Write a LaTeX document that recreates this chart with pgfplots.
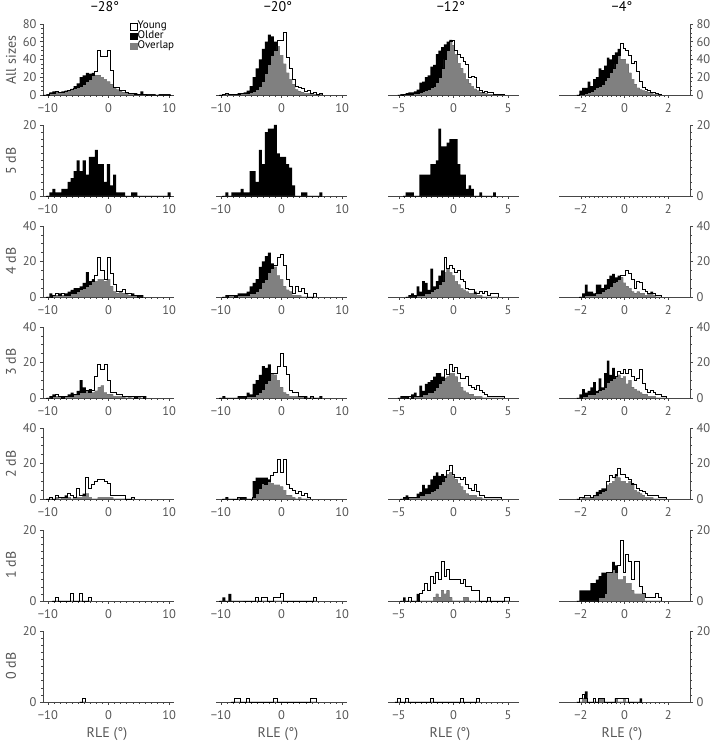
\documentclass[border=0pt]{standalone}
\usepackage{fontspec}
\setmainfont{PT Sans}
\usepackage{pgfplots}
\usepackage{pgfplotstable}
\pgfplotsset{compat=1.18}

\definecolor{axcol}{RGB}{70,70,70}
\definecolor{lblcol}{RGB}{85,85,85}
\definecolor{ovgray}{RGB}{128,128,128}

\newcommand\tk{\fontsize{12.5}{13}\selectfont}
\newcommand\lb{\fontsize{14}{14}\selectfont}

\pgfplotsset{
  panel/.style={scale only axis, width=131pt, height=71pt, anchor=south west, ymin=0,
    axis x line*=bottom, tick align=outside, major tick length=3pt, minor tick length=1.6pt,
    axis line style={axcol, line width=0.6pt}, every tick/.style={axcol, line width=0.5pt},
    tick label style={font=\tk, text=lblcol}, xticklabel style={yshift=-2.5pt},
    minor x tick num=9, clip=false},
  colA/.style={panel, xmin=-10.8, xmax=10.8, xtick={-10,0,10}, xticklabels={−10,0,10}, axis y line*=left},
  colB/.style={panel, xmin=-10.8, xmax=10.8, xtick={-10,0,10}, xticklabels={−10,0,10}, hide y axis},
  colC/.style={panel, xmin=-6, xmax=6, xtick={-5,0,5}, xticklabels={−5,0,5}, hide y axis},
  colD/.style={panel, xmin=-3, xmax=3, xtick={-2,0,2}, xticklabels={−2,0,2}, axis y line*=right},
  r80/.style={ymax=80, ytick={0,20,40,60,80}, yticklabels={0,20,40,60,80}, minor y tick num=3},
  r40/.style={ymax=40, ytick={0,20,40}, yticklabels={0,20,40}, minor y tick num=3},
  r20/.style={ymax=20, ytick={0,20}, yticklabels={0,20}, minor y tick num=9},
}

% #1 table (x = bin centre, Y = young, O = older), #2 half bin width
\newcommand{\hist}[2]{%
  \addplot[const plot, fill=black, draw=none, forget plot] table[x expr=\thisrow{x}-#2, y=O] {#1} \closedcycle;
  \addplot[const plot, fill=ovgray, draw=none, forget plot] table[x expr=\thisrow{x}-#2, y expr={min(\thisrow{Y},\thisrow{O})}] {#1} \closedcycle;
  \addplot[const plot, draw=black, line width=0.9pt, forget plot] table[x expr=\thisrow{x}-#2, y=Y] {#1};
}

% ---- All sizes
\pgfplotstableread[row sep=\\]{x Y O\\
-10.5 0 0\\ -10 0 1\\ -9.5 2 3\\ -9 2 4\\ -8.5 4 3\\ -8 3 3\\ -7.5 3 4\\ -7 4 5\\ -6.5 5 5\\ -6 6 7\\
-5.5 7 10\\ -5 9 13\\ -4.5 10 20\\ -4 12 22\\ -3.5 15 25\\ -3 18 24\\ -2.5 22 25\\ -2 26 22\\ -1.5 50 22\\ -1 43 20\\
-0.5 43 18\\ 0 50 15\\ 0.5 28 12\\ 1 8 9\\ 1.5 8 6\\ 2 5 4\\ 2.5 5 3\\ 3 3 3\\ 3.5 2 2\\ 4 2 2\\
4.5 1 2\\ 5 1 1\\ 5.5 1 4\\ 6 1 1\\ 6.5 0 1\\ 7 0 1\\ 7.5 0 1\\ 8 0 0\\ 8.5 0 1\\ 9 0 1\\ 9.5 0 1\\ 10 0 1\\ 10.5 0 0\\
}\dAa
\pgfplotstableread[row sep=\\]{x Y O\\
-10 0 0\\ -9.5 1 1\\ -9 2 2\\ -8.5 1 1\\ -8 1 1\\ -7.5 1 1\\ -7 1 2\\ -6.5 2 2\\ -6 2 3\\ -5.5 2 5\\
-5 3 10\\ -4.5 4 20\\ -4 6 30\\ -3.5 10 40\\ -3 15 52\\ -2.5 24 60\\ -2 34 68\\ -1.5 44 66\\ -1 50 60\\ -0.5 62 55\\
0 62 45\\ 0.5 71 35\\ 1 42 25\\ 1.5 30 18\\ 2 18 12\\ 2.5 10 6\\ 3 8 4\\ 3.5 7 3\\ 4 4 2\\ 4.5 5 2\\
5 2 1\\ 5.5 3 1\\ 6 1 1\\ 6.5 2 1\\ 7 0 0\\
}\dAb
\pgfplotstableread[row sep=\\]{x Y O\\
-5 0 0\\ -4.75 0 1\\ -4.5 1 1\\ -4.25 1 2\\ -4 1 3\\ -3.75 1 3\\ -3.5 2 4\\ -3.25 2 6\\ -3 3 14\\ -2.75 4 15\\
-2.5 5 20\\ -2.25 6 22\\ -2 8 32\\ -1.75 10 34\\ -1.5 14 46\\ -1.25 20 50\\ -1 30 54\\ -0.75 40 57\\ -0.5 50 60\\ -0.25 60 62\\
0 62 56\\ 0.25 50 46\\ 0.5 46 36\\ 0.75 42 30\\ 1 38 24\\ 1.25 34 18\\ 1.5 20 13\\ 1.75 21 10\\ 2 20 7\\ 2.25 8 5\\
2.5 5 3\\ 2.75 3 2\\ 3 4 2\\ 3.25 3 1\\ 3.5 3 1\\ 3.75 1 1\\ 4 1 0\\ 4.25 1 0\\ 4.5 1 0\\ 4.75 0 0\\
}\dAc
\pgfplotstableread[row sep=\\]{x Y O\\
-2.125 0 0\\ -2 1 5\\ -1.875 1 8\\ -1.75 2 8\\ -1.625 3 15\\ -1.5 4 10\\ -1.375 6 18\\ -1.25 8 20\\ -1.125 10 30\\ -1 12 28\\
-0.875 16 33\\ -0.75 20 42\\ -0.625 25 40\\ -0.5 30 45\\ -0.375 35 48\\ -0.25 45 52\\ -0.125 58 40\\ 0 52 40\\ 0.125 50 35\\ 0.25 45 25\\
0.375 36 18\\ 0.5 38 12\\ 0.625 26 8\\ 0.75 15 6\\ 0.875 8 5\\ 1 6 4\\ 1.125 5 3\\ 1.25 3 2\\ 1.375 3 1\\ 1.5 2 1\\
1.625 1 0\\ 1.75 0 0\\
}\dAd
% ---- 5 dB
\pgfplotstableread[row sep=\\]{x Y O\\
-10 0 0\\ -9.5 0 1\\ -9 0 2\\ -8.5 0 1\\ -8 0 1\\ -7.5 0 2\\ -7 0 2\\ -6.5 0 4\\ -6 0 5\\ -5.5 0 7\\
-5 0 10\\ -4.5 0 7\\ -4 0 10\\ -3.5 0 6\\ -3 0 11\\ -2.5 0 11\\ -2 0 13\\ -1.5 0 9\\ -1 0 9\\ -0.5 0 4\\
0 0 9\\ 0.5 0 3\\ 1 0 6\\ 1.5 0 1\\ 2 0 1\\ 2.5 0 1\\ 3 0 0\\ 4 0 1\\ 4.5 0 1\\ 5 0 0\\ 10 0 1\\ 10.5 0 0\\
}\dBa
\pgfplotstableread[row sep=\\]{x Y O\\
-9.5 0 0\\ -9 0 1\\ -8.5 0 0\\ -8 0 1\\ -7.5 0 1\\ -7 0 1\\ -6.5 0 2\\ -6 0 1\\ -5.5 0 1\\ -5 0 7\\
-4.5 0 7\\ -4 0 4\\ -3.5 0 13\\ -3 0 9\\ -2.5 0 18\\ -2 0 19\\ -1.5 0 19\\ -1 0 20\\ -0.5 0 12\\ 0 0 11\\
0.5 0 11\\ 1 0 9\\ 1.5 0 8\\ 2 0 3\\ 2.5 0 0\\ 3.5 0 1\\ 4 0 1\\ 4.5 0 0\\ 6.5 0 1\\ 7 0 0\\
}\dBb
\pgfplotstableread[row sep=\\]{x Y O\\
-4.5 0 0\\ -4.25 0 1\\ -4 0 1\\ -3.75 0 1\\ -3.5 0 0\\ -3 0 6\\ -2.75 0 6\\ -2.5 0 6\\ -2.25 0 6\\ -2 0 9\\
-1.75 0 9\\ -1.5 0 10\\ -1.25 0 19\\ -1 0 14\\ -0.75 0 14\\ -0.5 0 15\\ -0.25 0 16\\ 0 0 16\\ 0.25 0 16\\ 0.5 0 9\\
0.75 0 6\\ 1 0 6\\ 1.25 0 2\\ 1.5 0 3\\ 1.75 0 2\\ 2 0 0\\ 2.5 0 1\\ 2.75 0 0\\ 3.75 0 1\\ 4 0 0\\
}\dBc
% ---- 4 dB
\pgfplotstableread[row sep=\\]{x Y O\\
-10 0 0\\ -9.5 0 2\\ -9 1 1\\ -8.5 2 1\\ -8 1 2\\ -7.5 2 1\\ -7 1 2\\ -6.5 1 3\\ -6 2 4\\ -5.5 2 5\\
-5 3 5\\ -4.5 4 6\\ -4 5 8\\ -3.5 6 14\\ -3 7 9\\ -2.5 9 10\\ -2 12 9\\ -1.5 22 10\\ -1 15 10\\ -0.5 10 9\\
0 22 10\\ 0.5 13 6\\ 1 7 3\\ 1.5 3 2\\ 2 3 3\\ 2.5 4 2\\ 3 2 2\\ 3.5 2 1\\ 4 1 2\\ 4.5 1 1\\
5 0 1\\ 5.5 0 1\\ 6 0 0\\
}\dCa
\pgfplotstableread[row sep=\\]{x Y O\\
-9.5 0 0\\ -9 0 1\\ -8.5 1 1\\ -8 1 1\\ -7.5 0 1\\ -7 1 2\\ -6.5 1 2\\ -6 1 2\\ -5.5 1 3\\ -5 2 6\\
-4.5 2 8\\ -4 3 10\\ -3.5 5 17\\ -3 8 20\\ -2.5 10 23\\ -2 14 25\\ -1.5 16 19\\ -1 18 17\\ -0.5 22 12\\ 0 24 10\\
0.5 18 6\\ 1 10 4\\ 1.5 6 3\\ 2 2 1\\ 2.5 6 1\\ 3 3 1\\ 3.5 5 0\\ 4 2 0\\ 4.5 0 0\\ 5.5 2 0\\ 6 0 0\\
}\dCb
\pgfplotstableread[row sep=\\]{x Y O\\
-4.25 0 0\\ -4 0 1\\ -3.75 0 2\\ -3.5 0 1\\ -3.25 1 6\\ -3 1 3\\ -2.75 1 9\\ -2.5 2 8\\ -2.25 2 4\\ -2 3 16\\
-1.75 4 6\\ -1.5 5 9\\ -1.25 7 12\\ -1 9 15\\ -0.75 22 14\\ -0.5 16 16\\ -0.25 18 14\\ 0 16 12\\ 0.25 14 9\\ 0.5 15 7\\
0.75 10 5\\ 1 9 4\\ 1.25 5 3\\ 1.5 4 2\\ 1.75 4 2\\ 2 2 3\\ 2.25 2 1\\ 2.5 3 1\\ 2.75 2 0\\ 3 3 0\\
3.25 1 0\\ 3.5 2 0\\ 3.75 2 0\\ 4 2 0\\ 4.25 0 0\\
}\dCc
\pgfplotstableread[row sep=\\]{x Y O\\
-2 0 0\\ -1.875 0 2\\ -1.75 1 7\\ -1.625 1 3\\ -1.5 1 3\\ -1.375 1 2\\ -1.25 2 7\\ -1.125 2 7\\ -1 3 5\\ -0.875 4 7\\
-0.75 5 10\\ -0.625 6 12\\ -0.5 8 13\\ -0.375 9 11\\ -0.25 10 12\\ -0.125 12 11\\ 0 12 8\\ 0.125 15 6\\ 0.25 13 5\\ 0.375 10 3\\
0.5 5 2\\ 0.625 9 3\\ 0.75 8 2\\ 0.875 4 2\\ 1 3 1\\ 1.125 2 2\\ 1.25 2 3\\ 1.375 2 1\\ 1.5 1 0\\ 1.625 1 0\\ 1.75 0 0\\
}\dCd
% ---- 3 dB
\pgfplotstableread[row sep=\\]{x Y O\\
-10 0 0\\ -9.5 0 1\\ -9 1 2\\ -8.5 2 1\\ -8 1 1\\ -7.5 0 1\\ -7 1 1\\ -6.5 1 2\\ -6 1 3\\ -5.5 2 2\\
-5 2 4\\ -4.5 3 10\\ -4 3 6\\ -3.5 4 4\\ -3 3 5\\ -2.5 4 3\\ -2 12 4\\ -1.5 19 6\\ -1 16 7\\ -0.5 19 3\\
0 10 2\\ 0.5 3 2\\ 1 3 1\\ 1.5 2 1\\ 2 2 1\\ 2.5 1 1\\ 3 1 0\\ 3.5 1 1\\ 4 1 0\\ 4.5 0 1\\
5 1 1\\ 5.5 1 0\\ 6 0 1\\ 6.5 0 0\\
}\dDa
\pgfplotstableread[row sep=\\]{x Y O\\
-10 0 0\\ -9.5 0 1\\ -9 0 0\\ -7 0 1\\ -6.5 0 1\\ -6 0 1\\ -5.5 1 3\\ -5 1 2\\ -4.5 1 8\\ -4 2 10\\
-3.5 3 13\\ -3 5 18\\ -2.5 8 17\\ -2 10 19\\ -1.5 14 14\\ -1 14 13\\ -0.5 18 10\\ 0 25 6\\ 0.5 18 3\\ 1 13 2\\
1.5 4 1\\ 2 3 1\\ 2.5 3 1\\ 3 1 1\\ 3.5 1 1\\ 4 0 1\\ 4.5 0 0\\ 5 1 1\\ 5.5 0 0\\ 6.5 0 1\\ 7 0 0\\
}\dDb
\pgfplotstableread[row sep=\\]{x Y O\\
-5 0 0\\ -4.75 0 1\\ -4.5 0 1\\ -4.25 0 1\\ -4 1 0\\ -3.75 0 2\\ -3.5 1 3\\ -3.25 1 1\\ -3 1 7\\ -2.75 2 4\\
-2.5 2 8\\ -2.25 3 9\\ -2 3 10\\ -1.75 4 12\\ -1.5 6 14\\ -1.25 8 14\\ -1 10 12\\ -0.75 16 11\\ -0.5 13 12\\ -0.25 19 14\\
0 15 14\\ 0.25 17 12\\ 0.5 14 9\\ 0.75 11 6\\ 1 11 4\\ 1.25 12 3\\ 1.5 7 2\\ 1.75 6 2\\ 2 5 1\\ 2.25 7 1\\
2.5 4 1\\ 2.75 3 0\\ 3 2 0\\ 3.25 1 0\\ 3.5 1 0\\ 3.75 1 0\\ 4 1 0\\ 4.25 1 0\\ 4.5 1 0\\ 4.75 0 0\\
}\dDc
\pgfplotstableread[row sep=\\]{x Y O\\
-2.125 0 0\\ -2 0 2\\ -1.875 1 5\\ -1.75 1 3\\ -1.625 2 4\\ -1.5 2 6\\ -1.375 2 9\\ -1.25 3 4\\ -1.125 4 11\\ -1 5 6\\
-0.875 6 14\\ -0.75 9 21\\ -0.625 10 13\\ -0.5 11 17\\ -0.375 12 12\\ -0.25 15 13\\ -0.125 14 11\\ 0 16 12\\ 0.125 14 8\\ 0.25 16 10\\
0.375 12 6\\ 0.5 10 5\\ 0.625 11 4\\ 0.75 16 3\\ 0.875 8 2\\ 1 5 2\\ 1.125 3 1\\ 1.25 4 1\\ 1.375 3 1\\ 1.5 2 0\\
1.625 2 0\\ 1.75 1 0\\ 1.875 1 0\\ 2 0 0\\
}\dDd
% ---- 2 dB
\pgfplotstableread[row sep=\\]{x Y O\\
-10 0 0\\ -9.5 1 0\\ -9 0 0\\ -8.5 2 1\\ -8 1 0\\ -7.5 1 1\\ -7 1 2\\ -6.5 3 1\\ -6 2 0\\ -5.5 1 1\\
-5 6 1\\ -4.5 2 1\\ -4 2 3\\ -3.5 12 3\\ -3 6 1\\ -2.5 8 0\\ -2 10 0\\ -1.5 11 1\\ -1 11 1\\ -0.5 10 1\\
0 9 1\\ 0.5 2 1\\ 1 2 0\\ 1.5 2 0\\ 2 2 0\\ 2.5 2 0\\ 3 0 0\\ 4 1 0\\ 4.5 0 0\\
}\dEa
\pgfplotstableread[row sep=\\]{x Y O\\
-9.5 0 0\\ -9 0 1\\ -8.5 0 0\\ -7 1 1\\ -6.5 0 1\\ -6 0 1\\ -5.5 0 0\\ -4.5 1 10\\ -4 3 12\\ -3.5 6 12\\
-3 9 12\\ -2.5 8 12\\ -2 10 11\\ -1.5 13 9\\ -1 15 8\\ -0.5 22 8\\ 0 15 7\\ 0.5 22 5\\ 1 8 2\\ 1.5 6 2\\
2 5 1\\ 2.5 3 0\\ 3 4 1\\ 3.5 2 0\\ 4 3 0\\ 4.5 1 0\\ 5 0 0\\
}\dEb
\pgfplotstableread[row sep=\\]{x Y O\\
-4.75 0 0\\ -4.5 0 1\\ -4.25 0 2\\ -4 1 1\\ -3.75 1 1\\ -3.5 1 1\\ -3.25 1 3\\ -3 2 4\\ -2.75 2 8\\ -2.5 3 6\\
-2.25 3 8\\ -2 4 11\\ -1.75 5 13\\ -1.5 6 15\\ -1.25 8 13\\ -1 10 14\\ -0.75 12 13\\ -0.5 16 14\\ -0.25 19 15\\ 0 14 13\\
0.25 12 11\\ 0.5 12 9\\ 0.75 11 7\\ 1 12 5\\ 1.25 8 3\\ 1.5 6 2\\ 1.75 5 2\\ 2 8 2\\ 2.25 4 1\\ 2.5 2 1\\
2.75 2 0\\ 3 1 0\\ 3.25 1 0\\ 3.5 1 0\\ 3.75 1 0\\ 4 1 0\\ 4.25 1 0\\ 4.5 0 0\\
}\dEc
\pgfplotstableread[row sep=\\]{x Y O\\
-2.125 0 0\\ -2 1 0\\ -1.875 1 1\\ -1.75 2 1\\ -1.625 2 1\\ -1.5 1 1\\ -1.375 2 2\\ -1.25 2 4\\ -1.125 3 5\\ -1 4 6\\
-0.875 5 6\\ -0.75 10 8\\ -0.625 13 9\\ -0.5 12 10\\ -0.375 13 14\\ -0.25 17 12\\ -0.125 14 10\\ 0 14 10\\ 0.125 12 9\\ 0.25 11 10\\
0.375 8 9\\ 0.5 8 5\\ 0.625 6 4\\ 0.75 5 3\\ 0.875 4 2\\ 1 3 1\\ 1.125 2 1\\ 1.25 2 1\\ 1.375 2 0\\ 1.5 2 0\\
1.625 1 0\\ 1.75 1 0\\ 1.875 1 0\\ 2 0 0\\
}\dEd
% ---- 1 dB
\pgfplotstableread[row sep=\\]{x Y O\\
-9 0 0\\ -8.5 1 0\\ -8 0 0\\ -6 2 0\\ -5.5 0 0\\ -4.5 2 0\\ -4 0 0\\ -3 1 0\\ -2.5 0 0\\
}\dFa
\pgfplotstableread[row sep=\\]{x Y O\\
-10 0 0\\ -9.5 0 1\\ -9 0 0\\ -8.5 0 2\\ -8 0 0\\ -4 1 0\\ -3.5 0 0\\ -3 1 0\\ -2.5 1 0\\ -2 0 0\\
-1 1 0\\ -0.5 1 0\\ 0 2 0\\ 0.5 0 0\\ 5.5 1 0\\ 6 0 0\\
}\dFb
\pgfplotstableread[row sep=\\]{x Y O\\
-4.75 0 0\\ -4.5 0 1\\ -4.25 0 0\\ -4 1 0\\ -3.75 0 0\\ -3.25 0 2\\ -3 2 0\\ -2.75 3 0\\ -2.5 5 0\\ -2.25 3 0\\
-2 7 0\\ -1.75 5 1\\ -1.5 8 2\\ -1.25 6 1\\ -1 11 3\\ -0.75 7 2\\ -0.5 9 3\\ -0.25 6 1\\ 0 6 0\\ 0.25 6 0\\
0.5 6 0\\ 0.75 5 0\\ 1 6 1\\ 1.25 4 1\\ 1.5 4 0\\ 1.75 3 0\\ 2 3 0\\ 2.25 3 0\\ 2.5 0 0\\ 3.25 1 0\\
3.5 0 0\\ 4.75 1 0\\ 5 1 0\\ 5.25 0 0\\
}\dFc
\pgfplotstableread[row sep=\\]{x Y O\\
-2.125 0 0\\ -2 0 3\\ -1.875 0 3\\ -1.75 0 3\\ -1.625 0 3\\ -1.5 0 5\\ -1.375 0 5\\ -1.25 0 6\\ -1.125 1 7\\ -1 1 8\\
-0.875 2 8\\ -0.75 8 8\\ -0.625 8 8\\ -0.5 9 11\\ -0.375 8 10\\ -0.25 10 6\\ -0.125 17 6\\ 0 8 7\\ 0.125 13 5\\ 0.25 11 5\\
0.375 6 3\\ 0.5 11 2\\ 0.625 11 2\\ 0.75 4 2\\ 0.875 2 2\\ 1 1 0\\ 1.125 1 0\\ 1.25 1 0\\ 1.375 1 0\\ 1.5 2 0\\
1.625 1 0\\ 1.75 0 0\\
}\dFd
% ---- 0 dB
\pgfplotstableread[row sep=\\]{x Y O\\
-4.5 0 0\\ -4 1 0\\ -3.5 0 0\\
}\dGa
\pgfplotstableread[row sep=\\]{x Y O\\
-8 0 0\\ -7.5 1 0\\ -7 1 0\\ -6.5 0 0\\ -5.5 1 0\\ -5 0 0\\ -1 1 0\\ -0.5 0 0\\ 5 1 0\\ 5.5 1 0\\ 6 0 0\\
}\dGb
\pgfplotstableread[row sep=\\]{x Y O\\
-5.25 0 0\\ -5 1 0\\ -4.75 0 0\\ -4.25 1 0\\ -4 0 0\\ -2 1 0\\ -1.75 0 0\\ 0.75 1 0\\ 1 0 0\\ 2.25 1 0\\ 2.5 0 0\\
}\dGc
\pgfplotstableread[row sep=\\]{x Y O\\
-2.125 0 0\\ -2 1 0\\ -1.875 2 1\\ -1.75 1 3\\ -1.625 0 0\\ -1.375 1 0\\ -1.25 0 0\\ -1.125 1 1\\ -1 1 1\\ -0.875 0 0\\
-0.375 1 1\\ -0.25 1 0\\ -0.125 1 0\\ 0 1 1\\ 0.125 1 0\\ 0.25 0 0\\ 0.75 0 1\\ 0.875 0 0\\
}\dGd

\begin{document}
\begin{tikzpicture}
\useasboundingbox (0,0) rectangle (711pt,742pt);

% row 1: All sizes
\begin{axis}[colA, r80, at={(43pt,647pt)},
  legend image code/.code={\draw[#1] (0pt,-3.2pt) rectangle (6.4pt,3.2pt);},
  legend style={at={(rel axis cs:0.665,1.035)}, anchor=north west, draw=none, fill=none,
    font=\fontsize{11}{11}\selectfont, row sep=0.3pt, inner sep=0pt,
    nodes={inner sep=0.6pt, text height=6.6pt, text depth=1.8pt}, cells={anchor=west}}]
  \addlegendimage{fill=white, draw=black}
  \addlegendimage{fill=black, draw=black}
  \addlegendimage{fill=ovgray, draw=ovgray}
  \legend{Young,Older,Overlap}
  \hist{\dAa}{0.25}
\end{axis}
\begin{axis}[colB, r80, at={(216pt,647pt)}] \hist{\dAb}{0.25} \end{axis}
\begin{axis}[colC, r80, at={(388pt,647pt)}] \hist{\dAc}{0.125} \end{axis}
\begin{axis}[colD, r80, at={(559pt,647pt)}] \hist{\dAd}{0.0625} \end{axis}

% row 2: 5 dB
\begin{axis}[colA, r20, at={(43pt,546pt)}] \hist{\dBa}{0.25} \end{axis}
\begin{axis}[colB, r20, at={(216pt,546pt)}] \hist{\dBb}{0.25} \end{axis}
\begin{axis}[colC, r20, at={(388pt,546pt)}] \hist{\dBc}{0.125} \end{axis}
\begin{axis}[colD, r20, at={(559pt,546pt)}] \addplot[draw=none, forget plot] coordinates {(0,0)}; \end{axis}

% row 3: 4 dB
\begin{axis}[colA, r40, at={(43pt,445pt)}] \hist{\dCa}{0.25} \end{axis}
\begin{axis}[colB, r40, at={(216pt,445pt)}] \hist{\dCb}{0.25} \end{axis}
\begin{axis}[colC, r40, at={(388pt,445pt)}] \hist{\dCc}{0.125} \end{axis}
\begin{axis}[colD, r40, at={(559pt,445pt)}] \hist{\dCd}{0.0625} \end{axis}

% row 4: 3 dB
\begin{axis}[colA, r40, at={(43pt,344pt)}] \hist{\dDa}{0.25} \end{axis}
\begin{axis}[colB, r40, at={(216pt,344pt)}] \hist{\dDb}{0.25} \end{axis}
\begin{axis}[colC, r40, at={(388pt,344pt)}] \hist{\dDc}{0.125} \end{axis}
\begin{axis}[colD, r40, at={(559pt,344pt)}] \hist{\dDd}{0.0625} \end{axis}

% row 5: 2 dB
\begin{axis}[colA, r40, at={(43pt,243pt)}] \hist{\dEa}{0.25} \end{axis}
\begin{axis}[colB, r40, at={(216pt,243pt)}] \hist{\dEb}{0.25} \end{axis}
\begin{axis}[colC, r40, at={(388pt,243pt)}] \hist{\dEc}{0.125} \end{axis}
\begin{axis}[colD, r40, at={(559pt,243pt)}] \hist{\dEd}{0.0625} \end{axis}

% row 6: 1 dB
\begin{axis}[colA, r20, at={(43pt,141pt)}] \hist{\dFa}{0.25} \end{axis}
\begin{axis}[colB, r20, at={(216pt,141pt)}] \hist{\dFb}{0.25} \end{axis}
\begin{axis}[colC, r20, at={(388pt,141pt)}] \hist{\dFc}{0.125} \end{axis}
\begin{axis}[colD, r20, at={(559pt,141pt)}] \hist{\dFd}{0.0625} \end{axis}

% row 7: 0 dB
\begin{axis}[colA, r20, at={(43pt,40pt)}] \hist{\dGa}{0.25} \end{axis}
\begin{axis}[colB, r20, at={(216pt,40pt)}] \hist{\dGb}{0.25} \end{axis}
\begin{axis}[colC, r20, at={(388pt,40pt)}] \hist{\dGc}{0.125} \end{axis}
\begin{axis}[colD, r20, at={(559pt,40pt)}] \hist{\dGd}{0.0625} \end{axis}

% column titles, row labels, x labels
\foreach \cx/\t in {105/{−28°}, 278/{−20°}, 451/{−12°}, 622/{−4°}}
  \node[font=\lb] at (\cx pt, 735pt) {\t};
\foreach \cy/\t in {682/{All sizes}, 581/{5 dB}, 481/{4 dB}, 380/{3 dB}, 278/{2 dB}, 177/{1 dB}, 76/{0 dB}}
  \node[font=\lb, text=lblcol, rotate=90] at (11pt, \cy pt) {\t};
\foreach \cx in {107, 278, 450, 622}
  \node[font=\lb, text=lblcol] at (\cx pt, 8pt) {RLE (°)};
\end{tikzpicture}
\end{document}
